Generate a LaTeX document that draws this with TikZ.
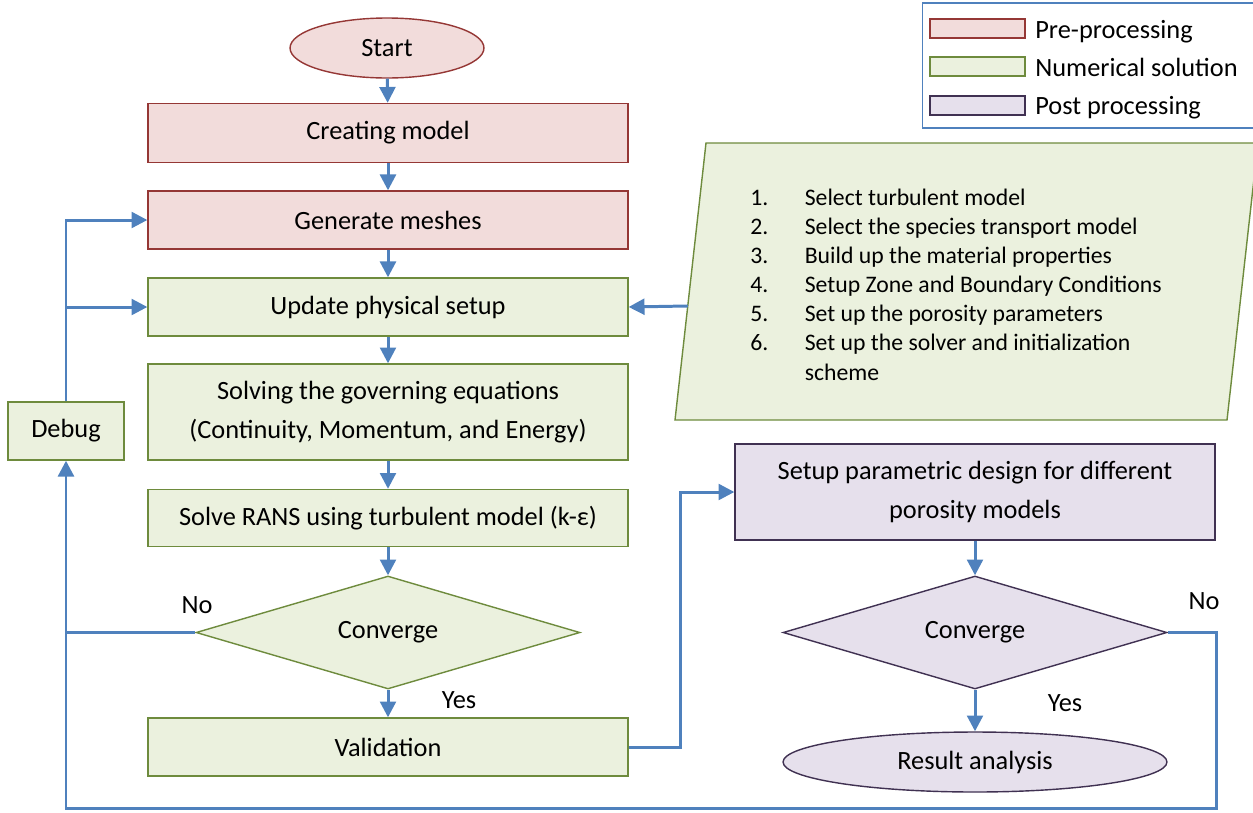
\documentclass[tikz,border=0pt]{standalone}
\usepackage{fontspec}
\setmainfont{Carlito}
\usetikzlibrary{shapes.geometric,arrows.meta,calc}
\definecolor{pinkF}{HTML}{F2DCDB}
\definecolor{pinkD}{HTML}{953735}
\definecolor{greenF}{HTML}{EBF1DE}
\definecolor{greenD}{HTML}{6E8B3D}
\definecolor{purpF}{HTML}{E6E0EC}
\definecolor{purpD}{HTML}{403152}
\definecolor{arrowB}{HTML}{4F81BD}
\begin{document}
\begin{tikzpicture}[x=0.02cm,y=-0.02cm,
  every node/.style={font=\fontsize{15}{22.5}\selectfont},
  box/.style={rectangle, draw, line width=0.8pt, minimum width=9.6cm, align=center, inner sep=0pt},
  pre/.style={fill=pinkF, draw=pinkD},
  num/.style={fill=greenF, draw=greenD},
  post/.style={fill=purpF, draw=purpD},
  flow/.style={draw=arrowB, line width=1.7pt},
  flowarrow/.style={-{Triangle[length=9pt,width=9pt]}},
  lbl/.style={inner sep=0pt},
  swatch/.style={rectangle, draw, line width=0.8pt, minimum width=1.9cm, minimum height=0.38cm, inner sep=0pt},
]
\useasboundingbox (0,0) rectangle (1253,812);

% main column
\node[ellipse, pre, line width=0.8pt, minimum width=3.88cm, minimum height=1.2cm, inner sep=0pt] (start) at (387,48) {Start};
\node[box, pre, minimum height=1.18cm] (model) at (388,133) {Creating model};
\node[box, pre, minimum height=1.16cm] (mesh) at (388,220) {Generate meshes};
\node[box, num, minimum height=1.16cm] (phys) at (388,307) {Update physical setup};
\node[box, num, minimum height=1.92cm] (solve) at (388,412) {Solving the governing equations\\(Continuity, Momentum, and Energy)};
\node[box, num, minimum height=1.14cm] (rans) at (388,518) {Solve RANS using turbulent model (k-ε)};
\node[diamond, num, line width=0.8pt, minimum width=7.68cm, minimum height=2.26cm, inner sep=0pt, aspect=3.4] (conv1) at (388,632.5) {Converge};
\node[box, num, minimum height=1.16cm] (valid) at (388,747) {Validation};
\node[box, num, minimum width=2.32cm, minimum height=1.16cm] (debug) at (66,431) {Debug};

% right column
\node[box, post, minimum height=1.92cm] (param) at (975,492) {Setup parametric design for different\\porosity models};
\node[diamond, post, line width=0.8pt, minimum width=7.68cm, minimum height=2.26cm, inner sep=0pt, aspect=3.4] (conv2) at (975,632.5) {Converge};
\node[ellipse, post, line width=0.8pt, minimum width=7.68cm, minimum height=1.2cm, inner sep=0pt] (result) at (975,762) {Result analysis};

% parallelogram with list
\coordinate (pTL) at (706,143);
\coordinate (pTR) at (1258,143);
\coordinate (pBR) at (1227,420);
\coordinate (pBL) at (675,420);
\draw[num, line width=0.8pt] (pTL) -- (pTR) -- (pBR) -- (pBL) -- cycle;
\coordinate (pin) at ($(pTL)!0.5884!(pBL)$);
\node[anchor=base west, inner sep=0pt, font=\fontsize{13.5}{16.6}\selectfont] (list) at (750,205)
 {\begin{tabular}[t]{@{}p{31pt}@{}l@{}}
 1. & Select turbulent model\\
 2. & Select the species transport model\\
 3. & Build up the material properties\\
 4. & Setup Zone and Boundary Conditions\\
 5. & Set up the porosity parameters\\
 6. & Set up the solver and initialization\\
    & scheme
 \end{tabular}};

% legend
\node[rectangle, draw=arrowB, line width=0.6pt, minimum width=6.72cm, minimum height=2.5cm, inner sep=0pt] (legend) at (1090,65.5) {};
\node[swatch, pre] (lg1) at (977.5,28.5) {};
\node[swatch, num] (lg2) at (977.5,66.5) {};
\node[swatch, post] (lg3) at (977.5,105.5) {};
\node[lbl, anchor=base west] (lt1) at (1035,38) {Pre-processing};
\node[lbl, anchor=base west] (lt2) at (1035,76) {Numerical solution};
\node[lbl, anchor=base west] (lt3) at (1035,114) {Post processing};

% connectors
\draw[flow, flowarrow] (start) -- (model);
\draw[flow, flowarrow] (model) -- (mesh);
\draw[flow, flowarrow] (mesh) -- (phys);
\draw[flow, flowarrow] (phys) -- (solve);
\draw[flow, flowarrow] (solve) -- (rans);
\draw[flow, flowarrow] (rans) -- (conv1);
\draw[flow, flowarrow] (conv1) -- (valid);
\draw[flow, flowarrow] (pin) -- (phys.east);
\draw[flow, flowarrow] (debug.north) |- (mesh.west);
\draw[flow, flowarrow] (debug.north |- phys.west) -- (phys.west);
\coordinate (rr) at (1216,632.5);
\coordinate (bl) at (66,808);
\draw[flow, flowarrow] (conv2.east) -- (rr) |- (bl) -- (debug.south);
\draw[flow] (conv1.west) -- (conv1.west -| debug.south);
\coordinate (vj) at (680,747);
\draw[flow, flowarrow] (valid.east) -- (vj) |- (param.west);
\draw[flow, flowarrow] (param) -- (conv2);
\draw[flow, flowarrow] (conv2) -- (result);

% labels
\node[lbl] (no1) at (197,605) {No};
\node[lbl] (yes1) at (459,700) {Yes};
\node[lbl] (no2) at (1204,601) {No};
\node[lbl] (yes2) at (1065,703) {Yes};
\end{tikzpicture}
\end{document}
